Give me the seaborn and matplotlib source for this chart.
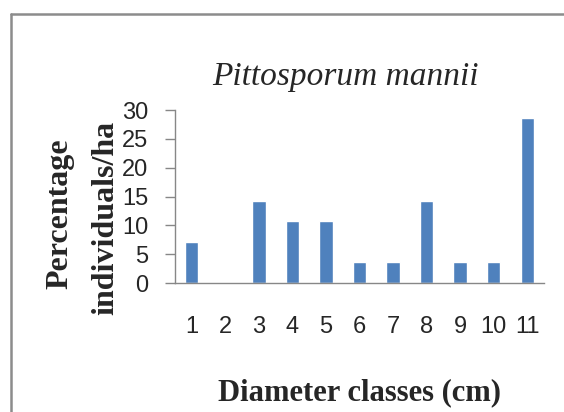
import numpy as np
import pandas as pd
import matplotlib
matplotlib.use('Agg')
import matplotlib.pyplot as plt
from matplotlib.lines import Line2D
import seaborn as sns

# diameter classes and percentage of individuals per ha
classes = ['1', '2', '3', '4', '5', '6', '7', '8', '9', '10', '11']
percent = [7.14, 0, 14.29, 10.71, 10.71, 3.57, 3.57, 14.29, 3.57, 3.57, 28.57]
y_ticks = [0, 5, 10, 15, 20, 25, 30]

df = pd.DataFrame({'classe': classes, 'pct': percent})

sns.set_style('white')
W, H = 564, 412
fig = plt.figure(figsize=(W / 100, H / 100), dpi=100)
ax = fig.add_axes([175 / W, 1 - 283 / H, (544 - 175) / W, (283 - 110) / H])

sns.barplot(data=df, x='classe', y='pct', order=classes, color='#4f81bd',
            width=0.4, saturation=1, ax=ax)

gray = '#878787'
ax.set_ylim(0, 30)
ax.set_xlim(-0.5, len(classes) - 0.5)
ax.set_yticks(y_ticks)
ax.set_xlabel('')
ax.set_ylabel('')
for s in ['top', 'right']:
    ax.spines[s].set_visible(False)
for s in ['left', 'bottom']:
    ax.spines[s].set_color(gray)
    ax.spines[s].set_linewidth(1.0)

ax.tick_params(axis='y', direction='out', length=7, width=1, color=gray,
               pad=12, left=True, labelsize=17)
ax.tick_params(axis='x', length=0, pad=24, labelsize=17)
for lab in ax.get_xticklabels() + ax.get_yticklabels():
    lab.set_family('Liberation Sans')

# chart frame (cropped at right and bottom)
fig.add_artist(Line2D([11 / W, 11 / W], [1 - 14 / H, 0], transform=fig.transFigure,
                      color='#8c8c8c', lw=1.8))
fig.add_artist(Line2D([11 / W, 1], [1 - 14 / H, 1 - 14 / H], transform=fig.transFigure,
                      color='#8c8c8c', lw=1.8))

fig.text(345 / W, 1 - 85 / H, 'Pittosporum mannii', family='Liberation Serif',
         style='italic', fontsize=24, ha='center', va='baseline')
fig.text(360 / W, 1 - 400 / H, 'Diameter classes (cm)', family='Liberation Serif',
         weight='bold', fontsize=22, ha='center', va='baseline')
fig.text(60 / W, 1 - 214 / H, 'Percentage', family='Liberation Serif',
         weight='bold', fontsize=23, rotation=90, ha='center', va='center')
fig.text(106 / W, 1 - 218 / H, 'individuals/ha', family='Liberation Serif',
         weight='bold', fontsize=23, rotation=90, ha='center', va='center')

fig.savefig('out.png', dpi=100, facecolor='white')
